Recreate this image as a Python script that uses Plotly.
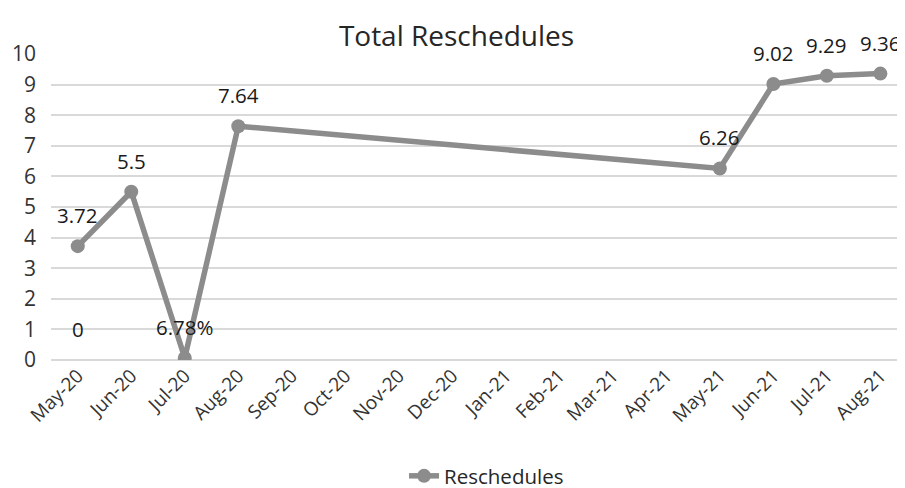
import plotly.graph_objects as go

months = ["May-20", "Jun-20", "Jul-20", "Aug-20", "Sep-20", "Oct-20", "Nov-20", "Dec-20",
          "Jan-21", "Feb-21", "Mar-21", "Apr-21", "May-21", "Jun-21", "Jul-21", "Aug-21"]
point_months = ["May-20", "Jun-20", "Jul-20", "Aug-20", "May-21", "Jun-21", "Jul-21", "Aug-21"]
reschedules = [3.72, 5.5, 0.0678, 7.64, 6.26, 9.02, 9.29, 9.36]
labels = ["3.72", "5.5", "6.78%", "7.64", "6.26", "9.02", "9.29", "9.36"]
extra_months = ["May-20"]
extra_values = [0]
extra_labels = ["0"]

GRAY = "#8c8c8c"
FONT = "Open Sans"

fig = go.Figure()
fig.add_trace(go.Scatter(
    x=point_months, y=reschedules, mode="lines+markers", name="Reschedules",
    line=dict(color=GRAY, width=5.5), marker=dict(color=GRAY, size=14),
    hoverinfo="skip",
))

annotations = []
for m, v, t in zip(point_months + extra_months, reschedules + extra_values, labels + extra_labels):
    annotations.append(dict(x=m, y=v, text=t, showarrow=False, yshift=31,
                            font=dict(family=FONT, size=20.5, color="#1a1a1a")))

# page body has an 8px margin, so the figure is offset by 8px
fig.update_layout(
    width=897, height=488,
    margin=dict(l=43, r=0, t=46, b=133),
    paper_bgcolor="white", plot_bgcolor="white",
    title=dict(text="Total Reschedules", x=0.5, xanchor="center", y=0.942, yanchor="middle",
               font=dict(family=FONT, size=28, color="#262626")),
    annotations=annotations,
    showlegend=True,
    legend=dict(orientation="h", x=0.51, xanchor="center", y=-0.381, yanchor="middle",
                font=dict(family=FONT, size=20.5, color="#262626")),
    xaxis=dict(type="category", categoryorder="array", categoryarray=months,
               range=[-0.5, 15.46], tickmode="array", tickvals=months, ticktext=months,
               tickangle=-45, showgrid=False, showline=False, ticks="",
               tickfont=dict(family=FONT, size=19, color="#333333")),
    yaxis=dict(range=[0, 10], dtick=1, showgrid=True, gridcolor="#d9d9d9", gridwidth=2,
               zeroline=True, zerolinecolor="#d9d9d9", zerolinewidth=2,
               showline=False, ticks="", ticklabelstandoff=14,
               tickfont=dict(family=FONT, size=21, color="#333333")),
)

fig.write_html("out.html")
